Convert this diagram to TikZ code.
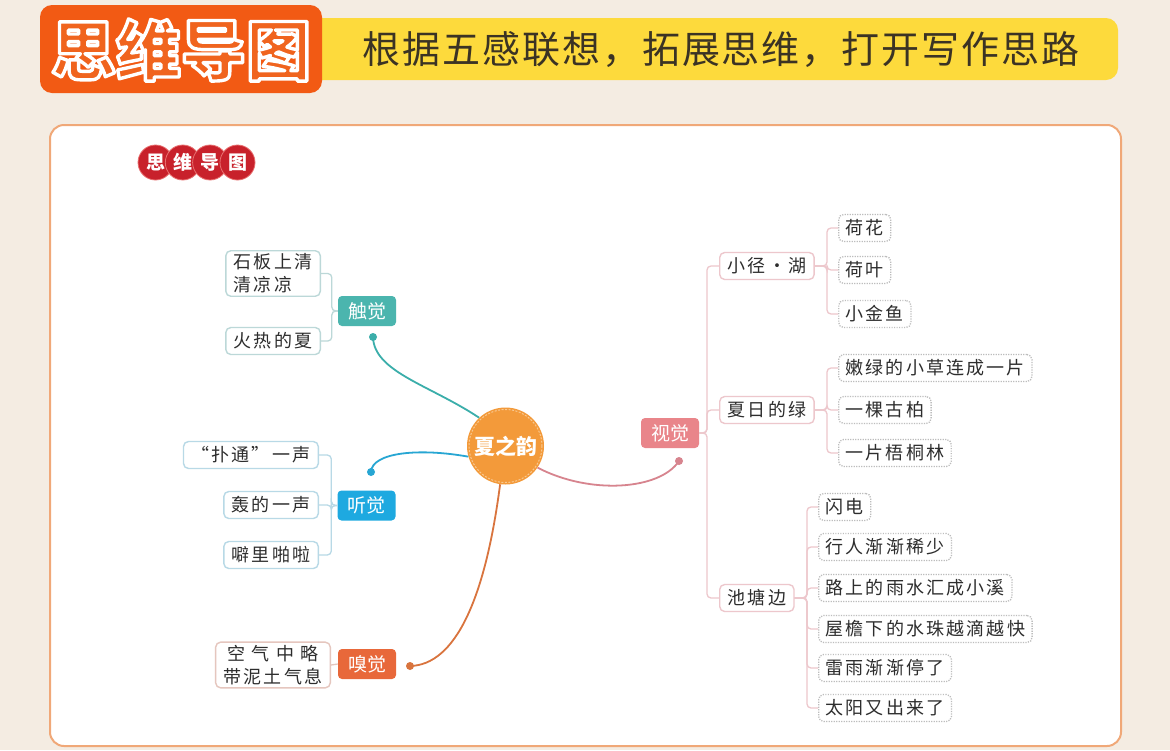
\documentclass[tikz,border=0pt]{standalone}
\usepackage{fontspec}
\setmainfont{Noto Sans CJK SC}
\newfontfamily\leaffont[LetterSpace=12]{Noto Sans CJK SC}
\newfontfamily\subfont[LetterSpace=5]{Noto Sans CJK SC}
\definecolor{bg}{HTML}{F4ECE2}
\definecolor{yellowbar}{HTML}{FDDA3C}
\definecolor{obox}{HTML}{F25A14}
\definecolor{otext}{HTML}{F0641E}
\definecolor{subtxt}{HTML}{3B3324}
\definecolor{panelb}{HTML}{F0A878}
\definecolor{badge}{HTML}{C8212B}
\definecolor{badgeb}{HTML}{E87070}
\definecolor{txt}{HTML}{2D2D2D}
\definecolor{cteal}{HTML}{4BB5AE}
\definecolor{cblue}{HTML}{1EA9E0}
\definecolor{corange}{HTML}{E8683A}
\definecolor{cpink}{HTML}{E9858A}
\definecolor{lteal}{HTML}{3BAEAA}
\definecolor{lblue}{HTML}{27A6D3}
\definecolor{lorange}{HTML}{D9743E}
\definecolor{lpink}{HTML}{D7848E}
\definecolor{bteal}{HTML}{BCD8D8}
\definecolor{bblue}{HTML}{B8D9E6}
\definecolor{borange}{HTML}{E5C6BE}
\definecolor{bpink}{HTML}{EDC7CC}
\definecolor{dotgray}{HTML}{BDBDBD}
\definecolor{ctrfill}{HTML}{F39A3A}
\definecolor{ctrring}{HTML}{F8C890}
\newcommand\outlinedtext[1]{%
  \special{pdf:literal direct 1 1 1 RG 3.4 w 1 j 2 Tr}#1\special{pdf:literal direct 0 Tr}}
\tikzset{
  catbox/.style={rounded corners=4, text=white, font=\fontsize{19}{19}\selectfont, minimum width=58, minimum height=30, inner sep=0},
  lleaf/.style={draw=#1, fill=white, line width=1.4, rounded corners=5, font=\leaffont\fontsize{18}{23}\selectfont, inner xsep=8, inner ysep=3, minimum height=27, text=txt},
  rmid/.style={draw=bpink, fill=white, line width=1.4, rounded corners=5, font=\leaffont\fontsize{18}{22}\selectfont, inner xsep=8, inner ysep=3, minimum height=27, text=txt},
  rleaf/.style={draw=dotgray, fill=white, dash pattern=on 1.2pt off 1.3pt, line width=1.3, rounded corners=5, font=\leaffont\fontsize{18}{22}\selectfont, inner xsep=7, inner ysep=3, minimum height=27, text=txt},
  brk/.style={draw=#1, line width=1.3, rounded corners=4},
  conn/.style={draw=#1, line width=1.8},
  enddot/.style={circle, fill=#1, minimum size=8, inner sep=0},
  badgec/.style={circle, fill=badge, draw=badgeb, line width=0.8, minimum size=35, inner sep=0, text=white, font=\fontsize{19}{19}\bfseries}
}
\begin{document}
\begin{tikzpicture}[x=1pt,y=-1pt]
\useasboundingbox (0,0) rectangle (1170,750);
\fill[bg] (0,0) rectangle (1170,750);
% header
\fill[fill=yellowbar, rounded corners=12] (300,18) rectangle (1118,80);
\fill[fill=obox, rounded corners=12] (40,5) rectangle (322,93);
\node[text=otext, font=\fontsize{65}{65}\bfseries\selectfont, inner sep=0] (title) at (181,50) {\outlinedtext{思维导图}};
\node[text=subtxt, font=\subfont\fontsize{38}{38}\selectfont, inner sep=0] (subtitle) at (721,50) {根据五感联想，拓展思维，打开写作思路};
% panel
\draw[draw=panelb, line width=2, fill=white, rounded corners=14] (50,125) rectangle (1121,746);
% badge
\node[badgec] (b1) at (155.5,162.5) {思};
\node[badgec] (b2) at (182.8,162.5) {维};
\node[badgec] (b3) at (210.1,162.5) {导};
\node[badgec] (b4) at (237.5,162.5) {图};
% centre
\node[circle, fill=ctrfill, minimum size=77, inner sep=0] (ctr) at (505.5,446) {};
\draw[draw=ctrring, line width=1, dash pattern=on 2pt off 1.5pt] (ctr.center) circle (36.5);
\node[text=white, font=\fontsize{21}{21}\bfseries\selectfont, inner sep=0] (ctrtext) at (ctr.center) {夏之韵};
% categories
\node[catbox, fill=cteal] (chu) at (367,311) {触觉};
\node[catbox, fill=cblue] (ting) at (366.5,505.5) {听觉};
\node[catbox, fill=corange] (xiu) at (367,664) {嗅觉};
\node[catbox, fill=cpink] (shi) at (670,433) {视觉};
% end dots
\node[enddot=lteal] (dchu) at (373,337) {};
\node[enddot=lblue] (dting) at (371,472) {};
\node[enddot=lorange] (dxiu) at (410,666) {};
\node[enddot=lpink] (dshi) at (679,461) {};
% connectors
\draw[conn=lteal] (dchu.center) .. controls (374,372) and (430,385) .. (ctr.133);
\draw[conn=lblue] (dting.center) .. controls (372,452) and (420,448) .. (ctr.196);
\draw[conn=lorange] (dxiu.center) .. controls (455,665) and (485,600) .. (ctr.262);
\draw[conn=lpink] (ctr.326) .. controls (590,495) and (660,490) .. (dshi.center);
% touch leaves
\node[lleaf=bteal, anchor=east, align=left] (t1) at (321,273.5) {石板上清\\清凉凉};
\node[lleaf=bteal, anchor=east] (t2) at (321,341) {火热的夏};
\foreach \c in {t1,t2} \draw[brk=bteal] (chu.west) -- ++(-6,0) |- (\c.east);
% hearing leaves
\node[lleaf=bblue, anchor=east] (h1) at (319,455) {“扑通”一声};
\node[lleaf=bblue, anchor=east] (h2) at (319,505) {轰的一声};
\node[lleaf=bblue, anchor=east] (h3) at (319,555) {噼里啪啦};
\foreach \c in {h1,h2,h3} \draw[brk=bblue] (ting.west) -- ++(-6,0) |- (\c.east);
% smell leaf
\node[lleaf=borange, anchor=east, align=center] (s1) at (331,665) {空 气 中 略\\带泥土气息};
\draw[brk=borange] (xiu.west) -- (s1.east);
% sight mid level
\node[rmid, anchor=west] (m1) at (719,266) {小径・湖};
\node[rmid, anchor=west] (m2) at (719,410) {夏日的绿};
\node[rmid, anchor=west] (m3) at (719,598) {池塘边};
\foreach \c in {m1,m2,m3} \draw[brk=bpink] (shi.east) -- (707,433) |- (\c.west);
% sight leaves
\node[rleaf, anchor=west] (a1) at (838,228) {荷花};
\node[rleaf, anchor=west] (a2) at (838,270) {荷叶};
\node[rleaf, anchor=west] (a3) at (838,314) {小金鱼};
\foreach \c in {a1,a2,a3} \draw[brk=bpink] (m1.east) -- (827,266) |- (\c.west);
\node[rleaf, anchor=west] (g1) at (838,368) {嫩绿的小草连成一片};
\node[rleaf, anchor=west] (g2) at (838,410) {一棵古柏};
\node[rleaf, anchor=west] (g3) at (838,453) {一片梧桐林};
\foreach \c in {g1,g2,g3} \draw[brk=bpink] (m2.east) -- (827,410) |- (\c.west);
\node[rleaf, anchor=west] (p1) at (818,507) {闪电};
\node[rleaf, anchor=west] (p2) at (818,547) {行人渐渐稀少};
\node[rleaf, anchor=west] (p3) at (818,588) {路上的雨水汇成小溪};
\node[rleaf, anchor=west] (p4) at (818,629) {屋檐下的水珠越滴越快};
\node[rleaf, anchor=west] (p5) at (818,668) {雷雨渐渐停了};
\node[rleaf, anchor=west] (p6) at (818,708) {太阳又出来了};
\foreach \c in {p1,p2,p3,p4,p5,p6} \draw[brk=bpink] (m3.east) -- (807,598) |- (\c.west);
\end{tikzpicture}
\end{document}
